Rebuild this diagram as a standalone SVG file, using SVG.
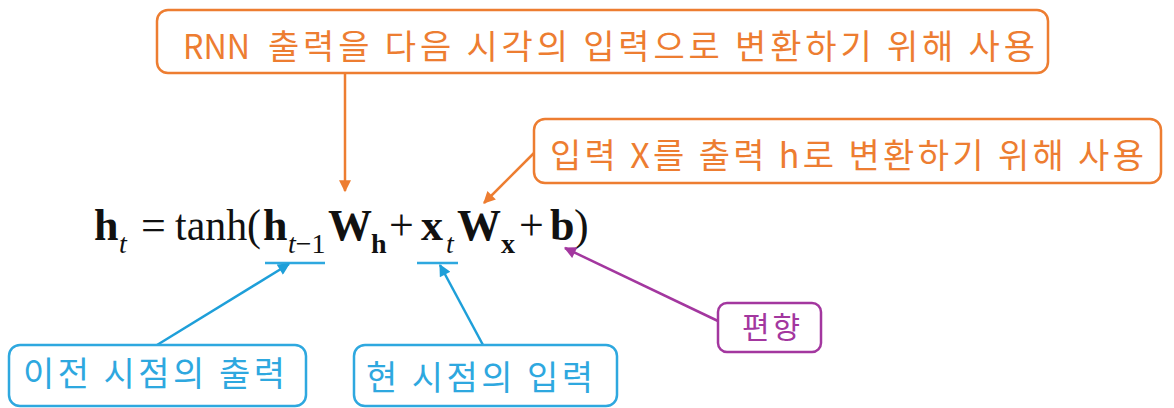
<svg xmlns="http://www.w3.org/2000/svg" width="1174" height="408" viewBox="0 0 1174 408">
<style>
.box{fill:#fff;stroke-width:2.5}
.or{stroke:#ED7D31}
.bl{stroke:#2EA8DF}
.pu{stroke:#A3379F}
.lbl{font-family:"Noto Sans CJK KR","Noto Sans",sans-serif;font-size:34px}
.to{fill:#ED7D31}
.tb{fill:#2EA8DF}
.tp{fill:#A3379F}
.eq{font-family:"Liberation Serif","Times New Roman",serif;font-size:44px;fill:#111}
.sub{font-size:28px}
.b{font-weight:bold}
.i{font-style:italic}
.ln{fill:none;stroke-width:2.5}
</style>
<defs>
<marker id="ao" viewBox="0 0 10 10" refX="9" refY="5" markerWidth="14" markerHeight="12" markerUnits="userSpaceOnUse" orient="auto"><path d="M0,0 L10,5 L0,10 z" fill="#ED7D31"/></marker>
<marker id="ab" viewBox="0 0 10 10" refX="9" refY="5" markerWidth="14" markerHeight="12" markerUnits="userSpaceOnUse" orient="auto"><path d="M0,0 L10,5 L0,10 z" fill="#1E9FD9"/></marker>
<marker id="ap" viewBox="0 0 10 10" refX="9" refY="5" markerWidth="14" markerHeight="12" markerUnits="userSpaceOnUse" orient="auto"><path d="M0,0 L10,5 L0,10 z" fill="#A3379F"/></marker>
</defs>

<g id="equation" class="eq">
<text x="94" y="240" class="b">h</text>
<text x="119" y="253" class="i sub">t</text>
<text x="141" y="240">=</text>
<text x="175" y="240" textLength="86" lengthAdjust="spacingAndGlyphs">tanh(</text>
<text x="263" y="240" class="b">h</text>
<text x="288" y="253" class="sub"><tspan class="i">t</tspan>−1</text>
<text x="328" y="240" class="b">W</text>
<text x="371" y="253" class="b sub">h</text>
<text x="389" y="240">+</text>
<text x="421" y="240" class="b">x</text>
<text x="446" y="253" class="i sub">t</text>
<text x="457" y="240" class="b">W</text>
<text x="501" y="253" class="b sub">x</text>
<text x="519" y="240">+</text>
<text x="550" y="240" class="b">b</text>
<text x="574" y="240">)</text>
</g>

<g id="connectors">
<line class="ln bl" x1="265" y1="263" x2="325" y2="263"/>
<line class="ln bl" x1="417" y1="263" x2="458" y2="263"/>
<line class="ln or" x1="345" y1="73" x2="345" y2="191" marker-end="url(#ao)"/>
<line class="ln or" x1="534" y1="153" x2="484" y2="203" marker-end="url(#ao)"/>
<line class="ln" stroke="#1E9FD9" x1="157" y1="345" x2="289" y2="264" marker-end="url(#ab)"/>
<line class="ln" stroke="#1E9FD9" x1="483" y1="345" x2="440" y2="265" marker-end="url(#ab)"/>
<line class="ln pu" x1="718" y1="321" x2="565" y2="248" marker-end="url(#ap)"/>
</g>

<g id="node-rnn">
<rect class="box or" x="157" y="10" width="891" height="63" rx="11"/>
<text class="lbl to" x="183" y="59" textLength="67" lengthAdjust="spacingAndGlyphs">RNN</text>
<text class="lbl to" x="268" y="59" textLength="767">출력을 다음 시각의 입력으로 변환하기 위해 사용</text>
</g>

<g id="node-input">
<rect class="box or" x="534" y="119" width="627" height="64" rx="11"/>
<text class="lbl to" x="550" y="168" textLength="594">입력 X를 출력 h로 변환하기 위해 사용</text>
</g>

<g id="node-prev">
<rect class="box bl" x="9" y="345" width="297" height="61" rx="11"/>
<text class="lbl tb" x="23" y="386" textLength="262">이전 시점의 출력</text>
</g>

<g id="node-cur">
<rect class="box bl" x="354" y="345" width="263" height="61" rx="11"/>
<text class="lbl tb" x="366" y="390" textLength="227">현 시점의 입력</text>
</g>

<g id="node-bias">
<rect class="box pu" x="718" y="303" width="103" height="49" rx="9"/>
<text class="lbl tp" x="742" y="338" style="font-size:30px" textLength="58">편향</text>
</g>
</svg>
